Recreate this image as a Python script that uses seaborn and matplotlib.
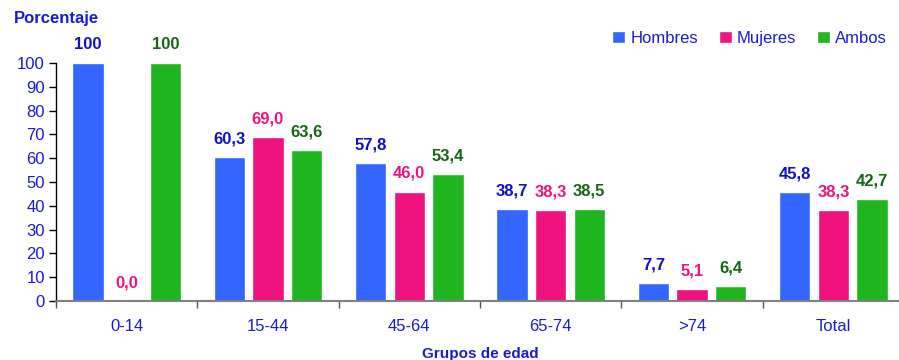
import matplotlib
matplotlib.use("Agg")
import matplotlib.pyplot as plt
import seaborn as sns
import pandas as pd
from matplotlib.ticker import FixedLocator, NullFormatter

grupos = ["0-14", "15-44", "45-64", "65-74", ">74", "Total"]
series = ["Hombres", "Mujeres", "Ambos"]
hombres = [100, 60.3, 57.8, 38.7, 7.7, 45.8]
mujeres = [0.0, 69.0, 46.0, 38.3, 5.1, 38.3]
ambos = [100, 63.6, 53.4, 38.5, 6.4, 42.7]

colores = ["#3366FF", "#F0127F", "#1FB51F"]
colores_texto = ["#1010C8", "#F0127F", "#176617"]
azul_texto = "#1A1AD2"

df = pd.DataFrame({
    "Grupo": grupos * 3,
    "Serie": [s for s in series for _ in grupos],
    "Valor": hombres + mujeres + ambos,
})

sns.set_theme(style="white")
plt.rcParams["font.family"] = ["Liberation Sans", "DejaVu Sans"]

fig = plt.figure(figsize=(8.99, 3.6), dpi=100)
ax = fig.add_axes([56 / 899, 59 / 360, 848 / 899, 238 / 360])

sns.barplot(data=df, x="Grupo", y="Valor", hue="Serie", order=grupos,
            hue_order=series, palette=colores, width=0.82, gap=0.19,
            saturation=1, ax=ax, legend=True, errorbar=None)

ax.set_xlim(-0.5, len(grupos) - 0.5)
ax.set_ylim(0, 100)
ax.set_yticks(range(0, 101, 10))
ax.tick_params(axis="y", direction="out", length=5, width=1, color="black",
               labelsize=12, labelcolor=azul_texto, left=True, pad=3)
ax.tick_params(axis="x", which="major", length=0, labelsize=12,
               labelcolor=azul_texto, pad=13)
ax.xaxis.set_minor_locator(FixedLocator([i - 0.5 for i in range(len(grupos) + 1)]))
ax.xaxis.set_minor_formatter(NullFormatter())
ax.tick_params(axis="x", which="minor", direction="out", length=5, width=1,
               color="#555555", bottom=True)

for side in ["top", "right"]:
    ax.spines[side].set_visible(False)
ax.spines["left"].set_color("black")
ax.spines["left"].set_linewidth(1)
ax.spines["bottom"].set_color("#808080")
ax.spines["bottom"].set_linewidth(1.5)

ax.set_xlabel("Grupos de edad", fontsize=11, fontweight="bold",
              color=azul_texto, labelpad=9)
ax.set_ylabel("")
fig.text(14 / 899, 1 - 19 / 360, "Porcentaje", fontsize=12, fontweight="bold",
         color=azul_texto, ha="left", va="center")


def etiqueta(v):
    if v == 100:
        return "100"
    return f"{v:.1f}".replace(".", ",")


for cont, col in zip(ax.containers, colores_texto):
    for bar in cont:
        h = bar.get_height()
        ax.annotate(etiqueta(h), (bar.get_x() + bar.get_width() / 2, h),
                    xytext=(0, 13), textcoords="offset points",
                    ha="center", va="center", fontsize=12, fontweight="bold",
                    color=col, annotation_clip=False)

leg = ax.legend(loc="upper right", bbox_to_anchor=(894 / 899, 1 - 24 / 360),
                bbox_transform=fig.transFigure, ncol=3, frameon=False,
                fontsize=12, handlelength=0.8, handleheight=0.8,
                handletextpad=0.3, columnspacing=1.25, borderaxespad=0)
for t in leg.get_texts():
    t.set_color(azul_texto)

fig.savefig("out.png", dpi=100)
